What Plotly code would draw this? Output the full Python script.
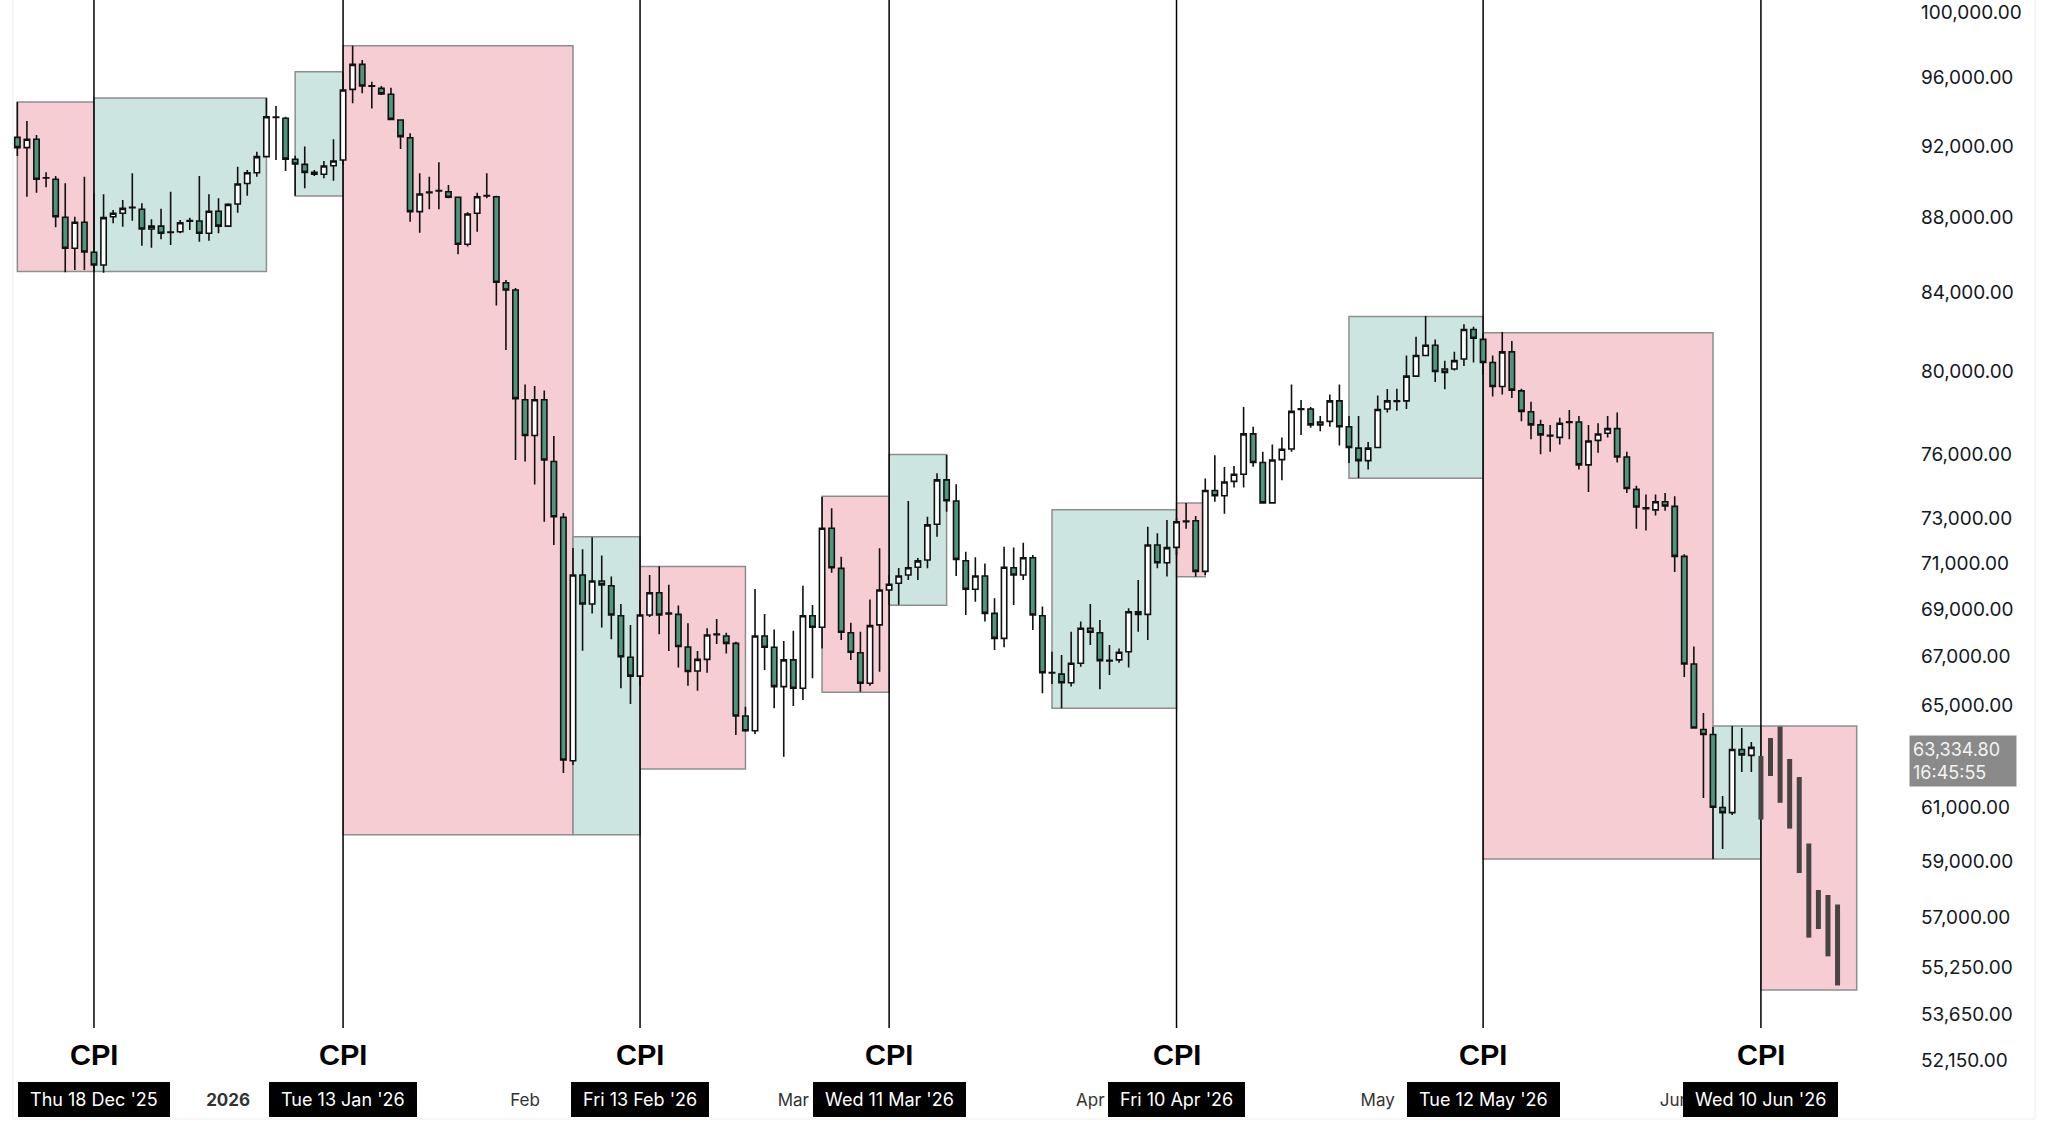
import math
import pandas as pd
import plotly.graph_objects as go

# ---------------- data ----------------
first_candle = "2025-12-10"
opens = [92510, 91920, 92400, 90200, 90130, 88030, 86350, 87760, 86140, 85460,
         88060, 88250, 88560, 88470, 87390, 87550, 87200, 87240, 87820, 87830,
         87160, 88360, 87550, 88760, 89900, 90500, 91410, 93690, 93610, 91260,
         90970, 90520, 90410, 90890, 91220, 95310, 96800, 95500, 95370, 95020,
         93510, 92490, 88340, 89380, 89480, 89440, 89130, 86570, 88250, 89200,
         89160, 84520, 84140, 78600, 76870, 78600, 75640, 73060, 62810, 70490,
         69230, 70230, 70020, 68730, 66980, 66200, 68760, 69720, 68810, 68790,
         67410, 66410, 66890, 67930, 67870, 67560, 64580, 63990, 67870, 67400,
         65770, 66870, 65700, 68730, 68240, 72570, 70780, 68010, 67170, 65910,
         68340, 69840, 70130, 70490, 70830, 71150, 72750, 74780, 73810, 71120,
         69870, 70450, 68830, 67770, 70810, 70490, 71250, 68730, 66330, 66280,
         65930, 66730, 68200, 68010, 66830, 66870, 67210, 68900, 68790, 71820,
         71030, 71710, 72860, 72910, 70650, 74290, 74050, 74710, 75040, 76950,
         75590, 73720, 75730, 76230, 78130, 78150, 77380, 77550, 78540, 77290,
         76270, 75680, 76300, 78150, 78520, 78540, 79760, 80790, 81300, 80110,
         80110, 80610, 82100, 81600, 80440, 79250, 80970, 79030, 78010, 77380,
         76880, 76780, 77500, 77520, 75480, 76640, 76980, 77200, 75850, 74340,
         73490, 73400, 73770, 73560, 71310, 66700, 64040, 63840, 61010, 60820,
         63250, 63020]
highs = [94560, 93450, 92650, 90520, 90320, 89910, 88060, 90280, 89350, 89300,
         88430, 88980, 90470, 88800, 87920, 88500, 89440, 87880, 88010, 90320,
         89300, 89070, 88800, 90840, 90650, 91690, 94800, 94330, 93700, 91460,
         91980, 90650, 91160, 92400, 96360, 97930, 97060, 95760, 95510, 95410,
         93550, 92740, 90470, 90280, 91090, 89810, 89160, 88300, 89380, 90470,
         89220, 84670, 84250, 79350, 79270, 79050, 76850, 73260, 71680, 71630,
         72160, 71350, 70420, 69230, 68340, 69400, 70490, 70870, 70060, 69170,
         68410, 67240, 68200, 68590, 68010, 67630, 64950, 69880, 68800, 68150,
         67660, 68090, 70020, 69190, 74000, 73470, 71300, 68430, 68050, 69430,
         71670, 70490, 70800, 73810, 71240, 73090, 75090, 75950, 74580, 71520,
         71270, 71000, 69480, 71740, 71710, 71920, 71370, 69120, 67210, 67070,
         68050, 68480, 69230, 68550, 67490, 67350, 69050, 70270, 72640, 72340,
         72940, 73020, 73720, 73120, 74840, 75930, 75380, 75430, 78240, 77290,
         76100, 76440, 76780, 79340, 78590, 78250, 77810, 78850, 79340, 77810,
         77810, 76560, 78800, 79120, 79140, 80790, 81730, 82790, 81600, 80530,
         80970, 82370, 82240, 81900, 80790, 81980, 81520, 79140, 78500, 77630,
         77380, 77720, 78100, 77810, 77380, 77460, 77810, 77980, 76100, 74510,
         74100, 74100, 74180, 74020, 71400, 67430, 64700, 64140, 61450, 64180,
         64100, 63550]
lows = [91450, 89160, 89380, 89680, 87480, 85070, 85190, 85190, 85100, 85050,
        87700, 87520, 87840, 86490, 86380, 86830, 86530, 87160, 87340, 86700,
        86760, 87160, 87520, 88280, 89220, 90280, 91400, 91220, 90600, 89220,
        89630, 90320, 90190, 90050, 90930, 94490, 95080, 94190, 94980, 93510,
        91840, 87790, 87190, 88470, 88470, 89070, 86030, 86440, 87240, 89070,
        83330, 81060, 75710, 75640, 74570, 72860, 71820, 62330, 62640, 67250,
        68830, 68230, 67730, 65700, 65060, 65800, 68680, 67940, 67240, 66560,
        65800, 65600, 66340, 67530, 67140, 63820, 63950, 63860, 66450, 64890,
        62970, 64980, 65230, 66110, 67350, 70590, 67700, 66870, 65560, 65800,
        66380, 69200, 69200, 70270, 70270, 70790, 72190, 73320, 70450, 68760,
        69330, 68480, 67280, 67400, 69190, 70270, 68120, 65500, 65880, 64890,
        65770, 66590, 67490, 65660, 66250, 66750, 66560, 68050, 67700, 70790,
        70420, 71370, 72550, 70410, 70490, 73770, 73230, 74430, 74430, 75390,
        73700, 73700, 74760, 76100, 76900, 77240, 77070, 77290, 76390, 75570,
        74870, 75260, 76270, 77980, 78060, 78150, 79720, 80780, 79470, 79110,
        80040, 80260, 80440, 79820, 78760, 78850, 78680, 77550, 76690, 75980,
        76100, 76440, 76690, 75260, 74220, 76050, 76780, 75590, 74180, 72550,
        72470, 73150, 73360, 70620, 66160, 64080, 61370, 59090, 59460, 60730,
        62370, 62370]
closes = [91920, 92400, 90130, 90220, 88060, 86350, 87760, 86150, 85460, 88010,
          88250, 88520, 88580, 87390, 87550, 87160, 87220, 87730, 87850, 87160,
          88360, 87550, 88740, 89870, 90500, 91410, 93700, 93660, 91270, 90990,
          90520, 90410, 90880, 91160, 95270, 96800, 95510, 95520, 95040, 93550,
          92550, 88340, 89310, 89420, 89500, 89130, 86570, 88210, 89160, 89220,
          84550, 84140, 78650, 76870, 78600, 75710, 73090, 62840, 70490, 69230,
          70230, 70060, 68760, 67000, 66200, 68760, 69720, 68760, 68840, 67430,
          66390, 66890, 67910, 67950, 67560, 64580, 63990, 67870, 67400, 65770,
          66870, 65700, 68730, 68240, 72570, 70810, 68030, 67190, 65910, 68310,
          69840, 70090, 70450, 70810, 71110, 72720, 74780, 73820, 71180, 69870,
          70450, 68830, 67770, 70830, 70490, 71250, 68760, 66340, 66350, 65930,
          66730, 68200, 68030, 66840, 66850, 67190, 68900, 68790, 71820, 71030,
          71700, 72860, 72890, 70650, 74290, 74050, 74680, 75040, 76950, 75590,
          73720, 75710, 76220, 78030, 78160, 77380, 77520, 78540, 77290, 76300,
          75680, 76270, 78120, 78540, 78550, 79760, 80790, 81300, 79990, 79940,
          80530, 82100, 81660, 80440, 79250, 80970, 79070, 78030, 77380, 76900,
          76850, 77460, 77530, 75480, 76610, 76940, 77200, 75850, 74380, 73530,
          73460, 73770, 73580, 71310, 66700, 64100, 63840, 61020, 60820, 63250,
          63040, 63334.8]

projection_start = "2026-06-10"
projection_low = [60555, 62218, 61191, 60218, 58580, 56274, 56578, 55624, 54628]
projection_high = [62995, 63703, 64160, 62878, 62179, 59663, 57965, 57786, 57445]

cpi_dates = ["2025-12-18", "2026-01-13", "2026-02-13", "2026-03-11",
             "2026-04-10", "2026-05-12", "2026-06-10"]
cpi_labels = ["Thu 18 Dec '25", "Tue 13 Jan '26", "Fri 13 Feb '26", "Wed 11 Mar '26",
              "Fri 10 Apr '26", "Tue 12 May '26", "Wed 10 Jun '26"]

box_start = ["2025-12-10", "2025-12-18", "2026-01-08", "2026-01-13", "2026-02-06",
             "2026-02-13", "2026-03-04", "2026-03-11", "2026-03-28", "2026-04-10",
             "2026-04-28", "2026-05-12", "2026-06-05", "2026-06-10"]
box_end = ["2025-12-18", "2026-01-05", "2026-01-13", "2026-02-06", "2026-02-13",
           "2026-02-24", "2026-03-11", "2026-03-17", "2026-04-10", "2026-04-13",
           "2026-05-12", "2026-06-05", "2026-06-10", "2026-06-20"]
box_top = [94560, 94800, 96354, 97930, 72184, 70864, 74027, 75974, 73409, 73710,
           82773, 81935, 64181, 64181]
box_bottom = [85110, 85110, 89200, 59990, 59990, 62489, 65542, 69177, 64894, 70417,
              74859, 59092, 59092, 54475]
box_kind = ["red", "green", "green", "red", "green", "red", "red", "green", "green",
            "red", "green", "red", "green", "red"]

month_ticks = ["2026-01-01", "2026-02-01", "2026-03-01", "2026-04-01", "2026-05-01", "2026-06-01"]
month_labels = ["<b>2026</b>", "Feb", "Mar", "Apr", "May", "Jun"]

price_ticks = [100000, 96000, 92000, 88000, 84000, 80000, 76000, 73000, 71000, 69000,
               67000, 65000, 61000, 59000, 57000, 55250, 53650, 52150]

last_price = 63334.80
countdown = "16:45:55"

# ---------------- styling ----------------
FILLS = {"red": "#f5cdd3", "green": "#cde5e0"}
BOX_LINE = "#8e8e8e"
CANDLE_DOWN = "#4f967d"
OUTLINE = "#111111"
PROJ_COLOR = "#4a4343"
AXIS_FONT = "Inter, Liberation Sans, Arial, sans-serif"
TEXT_COLOR = "#131722"
CPI_LINE_FLOOR = 53203  # price level where the event lines stop (above the "CPI" captions)
CPI_LINE_TOP = 150000

dates = pd.date_range(first_candle, periods=len(opens), freq="D")
proj_dates = pd.date_range(projection_start, periods=len(projection_low), freq="D")

fig = go.Figure()

# candles
fig.add_trace(go.Candlestick(
    x=dates, open=opens, high=highs, low=lows, close=closes,
    increasing=dict(fillcolor="#ffffff", line=dict(color=OUTLINE, width=1.6)),
    decreasing=dict(fillcolor=CANDLE_DOWN, line=dict(color=OUTLINE, width=1.6)),
    whiskerwidth=0, showlegend=False))

# projected bars
px_, py_ = [], []
for d, lo, hi in zip(proj_dates, projection_low, projection_high):
    px_ += [d, d, None]
    py_ += [lo, hi, None]
fig.add_trace(go.Scatter(x=px_, y=py_, mode="lines", line=dict(color=PROJ_COLOR, width=5),
                         hoverinfo="skip", showlegend=False))

shapes = []
# shaded ranges (beneath the candles)
for s, e, t, b, k in zip(box_start, box_end, box_top, box_bottom, box_kind):
    shapes.append(dict(type="rect", xref="x", yref="y", x0=s, x1=e, y0=b, y1=t,
                       fillcolor=FILLS[k], line=dict(color=BOX_LINE, width=1.5),
                       layer="below"))
# CPI event lines
for d in cpi_dates:
    shapes.append(dict(type="line", xref="x", yref="y", x0=d, x1=d,
                       y0=CPI_LINE_FLOOR, y1=CPI_LINE_TOP,
                       line=dict(color="#000000", width=1.5), layer="below"))
# faint panel frame
shapes += [
    dict(type="line", xref="paper", yref="paper", x0=0.0068, x1=0.0068, y0=-0.0361, y1=1,
         line=dict(color="#eeeeee", width=1)),
    dict(type="line", xref="paper", yref="paper", x0=0.0068, x1=1.0643, y0=-0.0361, y1=-0.0361,
         line=dict(color="#eeeeee", width=1)),
    dict(type="line", xref="paper", yref="paper", x0=1.0643, x1=1.0643, y0=-0.0361, y1=1,
         line=dict(color="#eeeeee", width=1)),
]

annotations = []
for d, lab in zip(cpi_dates, cpi_labels):
    annotations.append(dict(x=d, xref="x", y=0.0231, yref="paper", text="<b>CPI</b>",
                            showarrow=False, yanchor="middle",
                            font=dict(family="Liberation Sans, Arial, sans-serif", size=29, color="#000000")))
    annotations.append(dict(x=d, xref="x", y=-0.0185, yref="paper",
                            text="\u00a0" + lab + "\u00a0", showarrow=False, yanchor="middle",
                            bgcolor="#000000", bordercolor="#000000", borderpad=6,
                            font=dict(family=AXIS_FONT, size=18, color="#ffffff")))

annotations.append(dict(x=1, xref="paper", y=math.log10(last_price), yref="y",
                        xanchor="left", yanchor="top", yshift=12, xshift=-3,
                        text=f"{last_price:,.2f}<br>{countdown}", align="left",
                        showarrow=False, bgcolor="#8a8a8a", borderpad=3, width=100,
                        font=dict(family=AXIS_FONT, size=18, color="#f4f4f4")))

base = pd.Timestamp(cpi_dates[0])
x_range = [base - pd.Timedelta(days=9.81), base + pd.Timedelta(days=189.77)]

fig.update_layout(
    width=2048, height=1136,
    margin=dict(l=0, r=136, t=0, b=56),
    paper_bgcolor="#ffffff", plot_bgcolor="#ffffff",
    boxgap=0.2,
    showlegend=False,
    annotations=annotations,
    shapes=shapes,
    xaxis=dict(type="date", range=x_range, rangeslider=dict(visible=False),
               showgrid=False, zeroline=False, showline=False, ticks="",
               tickvals=month_ticks, ticktext=month_labels, ticklabelstandoff=8,
               tickfont=dict(family=AXIS_FONT, size=17, color="#333333")),
    yaxis=dict(type="log", side="right", range=[4.71191, 5.00324],
               showgrid=False, zeroline=False, showline=False, ticks="",
               tickvals=price_ticks, ticktext=[f"{v:,.2f}" for v in price_ticks],
               ticklabelstandoff=8,
               tickfont=dict(family=AXIS_FONT, size=19, color=TEXT_COLOR)),
)

fig.write_html("out.html")
